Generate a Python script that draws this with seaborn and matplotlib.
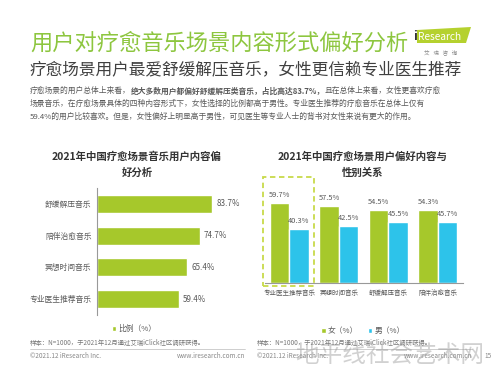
import matplotlib
matplotlib.use("Agg")
import matplotlib.pyplot as plt
import pandas as pd
import seaborn as sns
from matplotlib.patches import Rectangle, Polygon

W, H = 498, 374

GREEN = "#A6C82B"
BLUE = "#2DC3EA"
TITLE_GREEN = "#8DC63F"
GREY = "#595959"

# left chart data
content_types = ["舒缓解压音乐", "陪伴治愈音乐", "冥想时间音乐", "专业医生推荐音乐"]
content_share = [83.7, 74.7, 65.4, 59.4]

# right chart data
gender_types = ["专业医生推荐音乐", "冥想时间音乐", "舒缓解压音乐", "陪伴治愈音乐"]
female_share = [59.7, 57.5, 54.5, 54.3]
male_share = [40.3, 42.5, 45.5, 45.7]


def box(x0, y0, x1, y1):
    return [x0 / W, 1 - y1 / H, (x1 - x0) / W, (y1 - y0) / H]


def fx(x):
    return x / W


def fy(y):
    return 1 - y / H


sns.set_theme(style="white")
plt.rcParams["font.family"] = ["Noto Sans CJK SC", "DejaVu Sans"]

fig = plt.figure(figsize=(W / 100, H / 100), dpi=100)
fig.patch.set_facecolor("white")

# header
fig.text(fx(30), fy(43), "用户对疗愈音乐场景内容形式偏好分析", fontsize=16,
         color=TITLE_GREEN, va="center", ha="left")
fig.text(fx(30), fy(70), "疗愈场景用户最爱舒缓解压音乐，女性更信赖专业医生推荐", fontsize=12,
         color="#404040", va="center", ha="left")

# logo
logo = Polygon([[fx(417), fy(30)], [fx(471), fy(27)], [fx(466), fy(43)], [fx(417), fy(43)]],
               closed=True, transform=fig.transFigure, facecolor="#B5D12E", edgecolor="none")
fig.patches.append(logo)
fig.text(fx(413), fy(36.5), "i", fontsize=9, color="#333333", va="center", ha="left",
         fontweight="bold")
fig.text(fx(418), fy(36.5), "Research", fontsize=7.3, color="white", va="center", ha="left")
fig.text(fx(441), fy(52), "艾   瑞   咨   询", fontsize=4, color="#888888", va="center", ha="center")

# paragraph with a bold part
renderer = fig.canvas.get_renderer()


def put_line(parts, y):
    x = fx(30)
    for txt, bold in parts:
        t = fig.text(x, fy(y), txt, fontsize=5.6, color=GREY, va="center", ha="left",
                     fontweight="bold" if bold else "normal")
        bb = t.get_window_extent(renderer=renderer)
        x += bb.width / fig.bbox.width


put_line([("疗愈场景的用户总体上来看，", False),
          ("绝大多数用户都偏好舒缓解压类音乐，占比高达83.7%，", True),
          ("且在总体上来看，女性更喜欢疗愈", False)], 91)
put_line([("场景音乐，在疗愈场景具体的四种内容形式下，女性选择的比例都高于男性。专业医生推荐的疗愈音乐在总体上仅有", False)], 104)
put_line([("59.4%的用户比较喜欢。但是，女性偏好上明显高于男性，可见医生等专业人士的背书对女性来说有更大的作用。", False)], 117)

# left chart
fig.text(fx(137), fy(157), "2021年中国疗愈场景音乐用户内容偏", fontsize=7.5, fontweight="bold",
         color="#333333", ha="center", va="center")
fig.text(fx(137), fy(173), "好分析", fontsize=7.5, fontweight="bold",
         color="#333333", ha="center", va="center")

left_df = pd.DataFrame({"type": content_types, "share": content_share, "series": "比例（%）"})
ax1 = fig.add_axes(box(97, 188, 234.4, 315))
sns.barplot(data=left_df, y="type", x="share", hue="series", palette=[GREEN],
            width=0.57, orient="h", ax=ax1, saturation=1)
ax1.set_xlim(0, 100)
ax1.set_ylim(3.5, -0.5)
ax1.set_xlabel("")
ax1.set_ylabel("")
ax1.set_xticks([])
ax1.tick_params(axis="y", length=0, labelsize=5.6, labelcolor=GREY, pad=4)
for s in ["top", "right", "bottom"]:
    ax1.spines[s].set_visible(False)
ax1.spines["left"].set_color("#999999")
ax1.spines["left"].set_linewidth(0.8)
for c in ax1.containers:
    ax1.bar_label(c, fmt="%.1f%%", padding=3, fontsize=5.8, color=GREY)
ax1.legend(loc="center", bbox_to_anchor=(fx(134), fy(329)), bbox_transform=fig.transFigure,
           frameon=False, fontsize=5.6, handlelength=0.6, handleheight=0.6, handletextpad=0.3,
           labelcolor=GREY)

# right chart
fig.text(fx(363), fy(157), "2021年中国疗愈场景用户偏好内容与", fontsize=7.5, fontweight="bold",
         color="#333333", ha="center", va="center")
fig.text(fx(363), fy(173), "性别关系", fontsize=7.5, fontweight="bold",
         color="#333333", ha="center", va="center")

right_df = pd.DataFrame({
    "type": gender_types * 2,
    "share": female_share + male_share,
    "gender": ["女（%）"] * len(gender_types) + ["男（%）"] * len(gender_types),
})
ax2 = fig.add_axes(box(264.5, 175, 462.5, 283))
sns.barplot(data=right_df, x="type", y="share", hue="gender", palette=[GREEN, BLUE],
            width=0.79, ax=ax2, saturation=1)
ax2.set_xlim(-0.5, 3.5)
ax2.set_ylim(0, 80.6)
ax2.set_xlabel("")
ax2.set_ylabel("")
ax2.set_yticks([])
ax2.tick_params(axis="x", length=0, labelsize=4.7, labelcolor=GREY, pad=4)
for s in ["top", "right", "left"]:
    ax2.spines[s].set_visible(False)
ax2.spines["bottom"].set_color("#999999")
ax2.spines["bottom"].set_linewidth(0.8)
for c in ax2.containers:
    ax2.bar_label(c, fmt="%.1f%%", padding=3, fontsize=5.4, color=GREY)
ax2.legend(loc="center", bbox_to_anchor=(fx(363), fy(331)), bbox_transform=fig.transFigure,
           frameon=False, fontsize=5.6, ncol=2, handlelength=0.6, handleheight=0.6,
           handletextpad=0.3, columnspacing=1.2, labelcolor=GREY)
ax2.add_patch(Rectangle((-0.53, -2.2), 1.03, 81.2, fill=False, edgecolor="#C8DA4A",
                        linestyle=(0, (3, 2)), linewidth=1.3, clip_on=False))

# footer
src = "样本：N=1000，于2021年12月通过艾瑞iClick社区调研获得。"
fig.text(fx(30), fy(343), src, fontsize=4.6, color="#777777", va="center", ha="left")
fig.text(fx(257), fy(343), src, fontsize=4.6, color="#777777", va="center", ha="left")
fig.add_artist(plt.Line2D([fx(30), fx(245)], [fy(349), fy(349)], color="#BBBBBB", lw=0.5))
fig.add_artist(plt.Line2D([fx(257), fx(472)], [fy(349), fy(349)], color="#BBBBBB", lw=0.5))
fig.text(fx(30), fy(356), "©2021.12 iResearch Inc.", fontsize=4.6, color="#888888", va="center", ha="left")
fig.text(fx(245), fy(356), "www.iresearch.com.cn", fontsize=4.6, color="#888888", va="center", ha="right")
fig.text(fx(257), fy(356), "©2021.12 iResearch Inc.", fontsize=4.6, color="#888888", va="center", ha="left")
fig.text(fx(472), fy(356), "www.iresearch.com.cn", fontsize=4.6, color="#888888", va="center", ha="right")
fig.text(fx(488), fy(356), "15", fontsize=4.6, color="#888888", va="center", ha="center")

# watermark
fig.text(fx(390), fy(355), "地平线社会艺术网", fontsize=17, color="#9A9A9A", alpha=0.45,
         va="center", ha="center")

fig.savefig("out.png", dpi=100)
